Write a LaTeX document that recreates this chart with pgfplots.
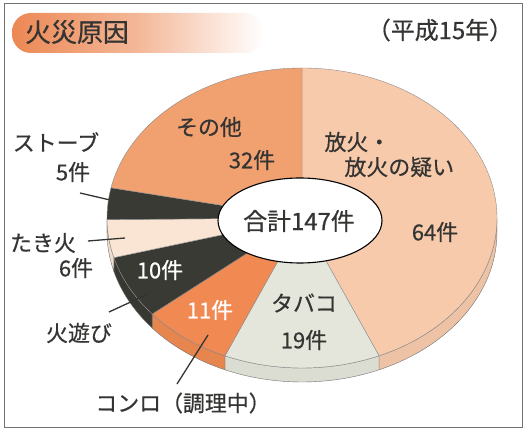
\documentclass[border=0pt]{standalone}
\usepackage{fontspec}
\setmainfont{Noto Sans CJK JP}[FakeBold=0.6]
\usepackage{pgfplots}
\pgfplotsset{compat=1.18}
\usepackage{pgfplotstable}

\definecolor{cFire}{RGB}{248,202,172}
\definecolor{cOther}{RGB}{241,160,112}
\definecolor{cKonro}{RGB}{240,138,82}
\definecolor{cTabaco}{RGB}{228,229,219}
\definecolor{cDark}{RGB}{58,58,52}
\definecolor{cTaki}{RGB}{250,229,212}
\definecolor{cText}{RGB}{52,52,50}
\definecolor{cBanner}{RGB}{236,136,84}

\pgfplotstableread{
name value col
fire 64 cFire
tabaco 19 cTabaco
konro 11 cKonro
hiasobi 10 cDark
takibi 6 cTaki
stove 5 cDark
other 32 cOther
}\piedata

\newcommand{\fs}[1]{\fontsize{#1}{#1}\selectfont}

\begin{document}
\begin{tikzpicture}
\begin{axis}[scale only axis, width=524bp, height=429bp,
  xmin=0, xmax=524, ymin=0, ymax=429, hide axis, clip=false]
\addplot[draw=none] coordinates {(0,0) (524,429)};
\pgfplotsextra{
  % frame and banner
  \draw[black!55, line width=0.8pt] (axis cs:4,2) rectangle (axis cs:522,426);
  \shade[left color=cBanner, right color=white, middle color=cBanner!60!white, rounded corners=19bp]
     (axis cs:12,376) rectangle (axis cs:264,416);
  \node[text=cText, font=\fs{26}] at (axis cs:77,397) {火災原因};
  \node[text=cText, font=\fs{24}] at (axis cs:440,399) {（平成15年）};
  % totals
  \pgfplotstablegetrowsof{\piedata}
  \pgfmathtruncatemacro\nrows{\pgfplotsretval-1}
  \gdef\total{0}
  \foreach \i in {0,...,\nrows}{
    \pgfplotstablegetelem{\i}{value}\of\piedata
    \pgfmathsetmacro\tmp{\total+\pgfplotsretval}\xdef\total{\tmp}
  }
  % side faces
  \gdef\cum{0}
  \foreach \i in {0,...,\nrows}{
    \pgfplotstablegetelem{\i}{value}\of\piedata \let\sv\pgfplotsretval
    \pgfplotstablegetelem{\i}{col}\of\piedata \let\scol\pgfplotsretval
    \pgfmathsetmacro\sa{90-\cum/\total*360}
    \pgfmathsetmacro\ea{90-(\cum+\sv)/\total*360}
    \pgfmathsetmacro\hi{min(\sa,0)}
    \pgfmathsetmacro\lo{max(\ea,-180)}
    \pgfmathsetmacro\sx{302+195*cos(\hi)}
    \pgfmathsetmacro\sy{211+150*sin(\hi)}
    \pgfmathtruncatemacro\ok{\hi>\lo}
    \ifnum\ok=1
      \fill[\scol!96!black, draw=black!55, line width=0.4pt] (axis cs:\sx,\sy)
        arc[start angle=\hi, end angle=\lo, x radius=195bp, y radius=150bp]
        -- ++(0,-14bp)
        arc[start angle=\lo, end angle=\hi, x radius=195bp, y radius=150bp] -- cycle;
    \fi
    \pgfmathsetmacro\tmp{\cum+\sv}\xdef\cum{\tmp}
  }
  % top faces
  \gdef\cum{0}
  \foreach \i in {0,...,\nrows}{
    \pgfplotstablegetelem{\i}{value}\of\piedata \let\sv\pgfplotsretval
    \pgfplotstablegetelem{\i}{col}\of\piedata \let\scol\pgfplotsretval
    \pgfmathsetmacro\sa{90-\cum/\total*360}
    \pgfmathsetmacro\ea{90-(\cum+\sv)/\total*360}
    \pgfmathsetmacro\sx{302+195*cos(\sa)}
    \pgfmathsetmacro\sy{211+150*sin(\sa)}
    \fill[\scol, draw=black!45, line width=0.4pt] (axis cs:302,211) -- (axis cs:\sx,\sy)
        arc[start angle=\sa, end angle=\ea, x radius=195bp, y radius=150bp] -- cycle;
    \pgfmathsetmacro\tmp{\cum+\sv}\xdef\cum{\tmp}
  }
  % hole
  \fill[white, draw=black, line width=1.1pt] (axis cs:300,208.5) ellipse[x radius=82bp, y radius=42.5bp];
  \node[text=cText, font=\fs{24}] at (axis cs:299,208) {合計147件};
  % labels
  \node[text=cText, font=\fs{22}] at (axis cs:209,302) {その他};
  \node[text=cText, font=\fs{22}] at (axis cs:252,269) {32件};
  \node[text=cText, font=\fs{22}, anchor=west] at (axis cs:321,287) {放火・};
  \node[text=cText, font=\fs{22}, anchor=west] at (axis cs:341,262) {放火の疑い};
  \node[text=cText, font=\fs{22}] at (axis cs:435,197) {64件};
  \node[text=cText, font=\fs{22}] at (axis cs:304,126) {タバコ};
  \node[text=cText, font=\fs{22}] at (axis cs:304,89) {19件};
  \node[text=white, font=\fs{22}] at (axis cs:210,119) {11件};
  \node[text=white, font=\fs{22}] at (axis cs:160,159) {10件};
  \node[text=cText, font=\fs{22}] at (axis cs:56,287) {ストーブ};
  \node[text=cText, font=\fs{22}] at (axis cs:73,257) {5件};
  \node[text=cText, font=\fs{22}] at (axis cs:43,186) {たき火};
  \node[text=cText, font=\fs{22}] at (axis cs:76,161) {6件};
  \node[text=cText, font=\fs{22}] at (axis cs:79,96) {火遊び};
  \node[text=cText, font=\fs{22}] at (axis cs:183,26) {コンロ（調理中）};
  % leader lines
  \draw[cText, line width=1.3pt] (axis cs:80,236) -- (axis cs:110,229);
  \draw[cText, line width=1.3pt] (axis cs:88,188) -- (axis cs:125,191);
  \draw[cText, line width=1.3pt] (axis cs:109,117) -- (axis cs:148,135);
  \draw[cText, line width=1.3pt] (axis cs:177,45) -- (axis cs:208,94);
}
\end{axis}
\end{tikzpicture}
\end{document}
